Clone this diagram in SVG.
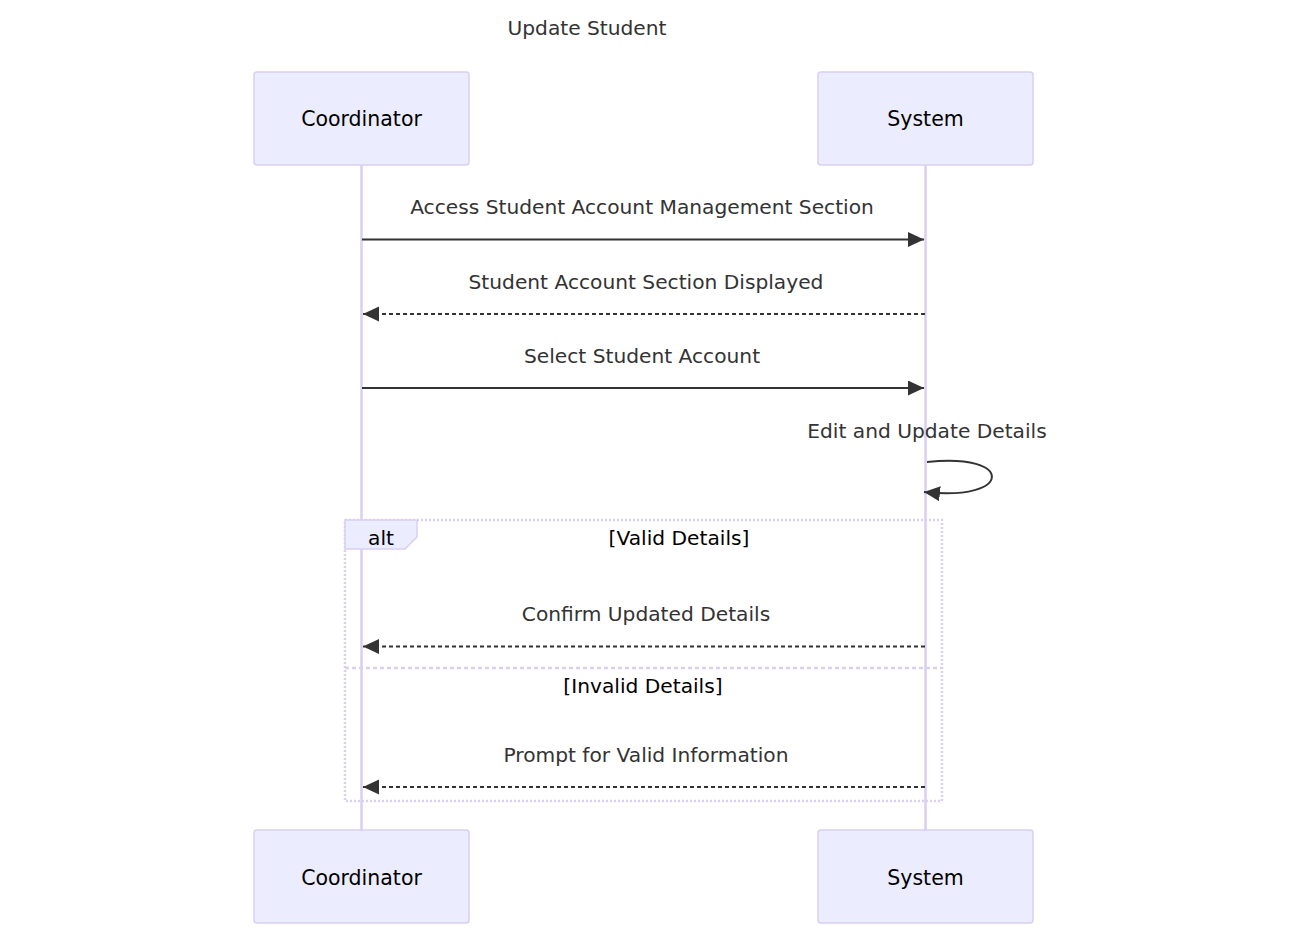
<svg xmlns="http://www.w3.org/2000/svg" width="1300" height="939" viewBox="0 0 1300 939">
<style>
.actor{fill:#ECECFF;stroke:#DACEF3;stroke-width:1.5}
.atext{font-family:"DejaVu Sans",sans-serif;font-size:20.5px;fill:#000;text-anchor:middle;dominant-baseline:central}
.life{stroke:#DACEF3;stroke-width:2.5;fill:none}
.msg{font-family:"DejaVu Sans",sans-serif;font-size:20.2px;fill:#333;text-anchor:middle;dominant-baseline:central}
.lbl{font-family:"DejaVu Sans",sans-serif;font-size:20.2px;fill:#000;text-anchor:middle;dominant-baseline:central}
.solid{stroke:#333;stroke-width:2;fill:none}
.dash{stroke:#333;stroke-width:2;fill:none;stroke-dasharray:4,3}
.loop{stroke:#DACEF3;stroke-width:2.5;fill:none;stroke-dasharray:2,2}
.div{stroke:#DACEF3;stroke-width:2.5;fill:none;stroke-dasharray:4,3}
</style>
<defs>
<marker id="arrow" markerUnits="userSpaceOnUse" markerWidth="18" markerHeight="16" refX="16" refY="7.5" orient="auto">
<path d="M0,0 L16,7.5 L0,15 z" fill="#333"/>
</marker>
</defs>
<text class="msg" x="587" y="28">Update Student</text>
<g id="lifelines">
<line class="life" x1="361.5" y1="165" x2="361.5" y2="830"/>
<line class="life" x1="925.5" y1="165" x2="925.5" y2="830"/>
</g>
<g id="actor-coordinator-top"><rect class="actor" x="254" y="72" width="215" height="93" rx="3"/><text class="atext" x="361.5" y="119">Coordinator</text></g>
<g id="actor-system-top"><rect class="actor" x="818" y="72" width="215" height="93" rx="3"/><text class="atext" x="925.5" y="119">System</text></g>
<g id="actor-coordinator-bottom"><rect class="actor" x="254" y="830" width="215" height="93" rx="3"/><text class="atext" x="361.5" y="878">Coordinator</text></g>
<g id="actor-system-bottom"><rect class="actor" x="818" y="830" width="215" height="93" rx="3"/><text class="atext" x="925.5" y="878">System</text></g>
<g id="alt-frame">
<rect class="loop" x="345" y="520" width="597" height="281"/>
<line class="div" x1="345" y1="668" x2="942" y2="668"/>
<polygon points="345,520 417,520 417,537 405,549 345,549" fill="#ECECFF" stroke="#DACEF3" stroke-width="1.5"/>
<text class="lbl" x="381" y="538">alt</text>
<text class="lbl" x="679" y="538">[Valid Details]</text>
<text class="lbl" x="643" y="686">[Invalid Details]</text>
</g>
<g id="connectors">
<text class="msg" x="642" y="207">Access Student Account Management Section</text>
<line class="solid" x1="362" y1="239.5" x2="924" y2="239.5" marker-end="url(#arrow)"/>
<text class="msg" x="646" y="282">Student Account Section Displayed</text>
<line class="dash" x1="925" y1="314" x2="363" y2="314" marker-end="url(#arrow)"/>
<text class="msg" x="642" y="356">Select Student Account</text>
<line class="solid" x1="362" y1="388" x2="924" y2="388" marker-end="url(#arrow)"/>
<text class="msg" x="927" y="431">Edit and Update Details</text>
<path class="solid" d="M927,462 C1014,452 1014,502 924,492" marker-end="url(#arrow)"/>
<text class="msg" x="646" y="614">Confirm Updated Details</text>
<line class="dash" x1="925" y1="646.5" x2="363" y2="646.5" marker-end="url(#arrow)"/>
<text class="msg" x="646" y="755">Prompt for Valid Information</text>
<line class="dash" x1="925" y1="787" x2="363" y2="787" marker-end="url(#arrow)"/>
</g>
</svg>
